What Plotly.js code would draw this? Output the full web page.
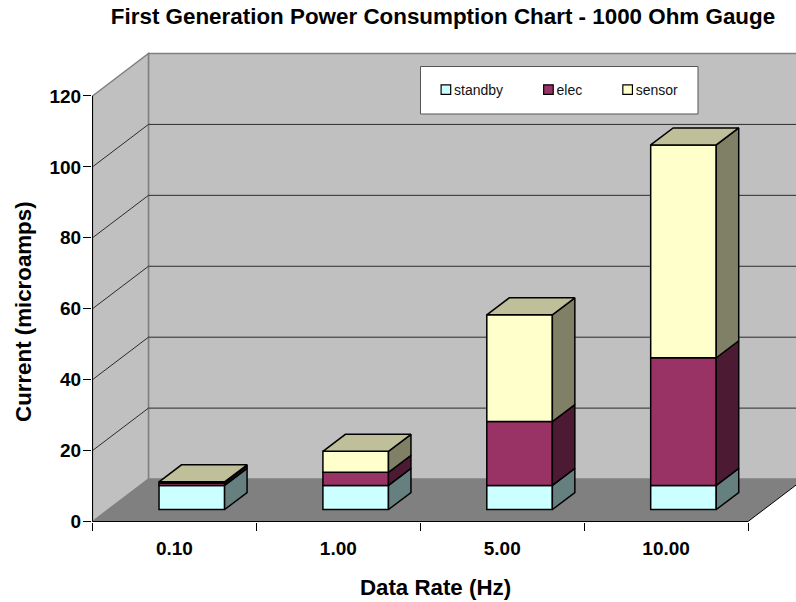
<!DOCTYPE html>
<html><head><meta charset="utf-8">
<script src="https://cdn.plot.ly/plotly-3.0.1.min.js"></script>
<style>html,body{margin:0;padding:0;background:#fff}</style>
</head><body><div id="chart" style="width:796px;height:602px"></div>
<script>
const categories = ['0.10','1.00','5.00','10.00'];
const standby = [6.8,6.8,6.8,6.8];
const elec = [0.7,3.7,18,36];
const sensor = [0.3,5.9,30.1,60];
const seriesNames = ['standby','elec','sensor'];
const yTicks = [0,20,40,60,80,100,120];

const series = [standby,elec,sensor];
const frontColors = ['#CCFFFF','#993366','#FFFFCC'];
const sideColors = ['#668080','#4D1A33','#808066'];
const topColor = '#BFBF99';

// scale: pixels per axis unit; used only to express the 3D depth offsets in axis units
const PXX=164, PXY=3.55;
const wallDX=56/PXX, wallDY=42.5/PXY;
const barDX=22.5/PXX, barDY=17/PXY, lift=12/PXY;
const barW=0.4, barOff=0.606;
const xMax=4, xEnd=704/PXX, yEnd=482/PXY;

const cum = categories.map(()=>0);
const traces=[], sideTraces=[];
series.forEach((vals,s)=>{
  const bases=vals.map((v,i)=>lift+cum[i]);
  const sx=[],sy=[];
  vals.forEach((v,i)=>{
    const r=i+barOff+barW/2, b=bases[i], t=b+v;
    sx.push(r,r+barDX,r+barDX,r,r,null);
    sy.push(b,b+barDY,t+barDY,t,b,null);
    cum[i]+=v;
  });
  traces.push({type:'bar',name:seriesNames[s],x:categories.map((c,i)=>i+barOff),y:vals,base:bases,width:barW,
    marker:{color:frontColors[s],line:{color:'#000',width:1.5}},hoverinfo:'skip'});
  sideTraces.push({type:'scatter',mode:'lines',x:sx,y:sy,fill:'toself',fillcolor:sideColors[s],
    line:{color:'#000',width:1.5},showlegend:false,hoverinfo:'skip'});
});
const tx=[],ty=[];
cum.forEach((c,i)=>{
  const l=i+barOff-barW/2,r=i+barOff+barW/2,t=lift+c;
  tx.push(l,r,r+barDX,l+barDX,l,null);
  ty.push(t,t,t+barDY,t+barDY,t,null);
});
sideTraces.push({type:'scatter',mode:'lines',x:tx,y:ty,fill:'toself',fillcolor:topColor,
  line:{color:'#000',width:1.5},showlegend:false,hoverinfo:'skip'});
const axisLines={type:'scatter',mode:'lines',cliponaxis:false,showlegend:false,hoverinfo:'skip',
  x:[0,0,null,0,xMax,xMax+wallDX],y:[120,0,null,0,0,wallDY],line:{color:'#000',width:1}};

const poly=(pts)=>'M'+pts.map(p=>p[0]+','+p[1]).join('L')+'Z';
const shapes=[
 {type:'path',xref:'x',yref:'y',layer:'below',path:poly([[wallDX,wallDY],[xEnd+1,wallDY],[xEnd+1,120+wallDY],[wallDX,120+wallDY]]),fillcolor:'#C0C0C0',line:{color:'#808080',width:1.5}},
 {type:'path',xref:'x',yref:'y',layer:'below',path:poly([[0,0],[wallDX,wallDY],[wallDX,120+wallDY],[0,120]]),fillcolor:'#C0C0C0',line:{color:'#808080',width:1.5}},
 {type:'path',xref:'x',yref:'y',layer:'below',path:poly([[0,0],[wallDX,wallDY],[xMax+wallDX,wallDY],[xMax,0]]),fillcolor:'#808080',line:{width:0}},
];
yTicks.slice(1,-1).forEach(v=>{
  shapes.push({type:'path',xref:'x',yref:'y',layer:'below',path:`M0,${v}L${wallDX},${v+wallDY}L${xEnd+1},${v+wallDY}`,line:{color:'#2b2b2b',width:1}});
});
// legend frame
const W=704,H=482;
shapes.push({type:'rect',xref:'paper',yref:'paper',layer:'above',x0:(420.5-92)/W,x1:(698-92)/W,y0:(522-114)/H,y1:(522-66.5)/H,fillcolor:'#fff',line:{color:'#555',width:1}});

const F='"Liberation Sans",Arial,sans-serif';
const tickFont={family:F,size:19,color:'#000'};
const layout={
 width:796,height:602,paper_bgcolor:'#fff',plot_bgcolor:'#fff',
 margin:{l:92,r:0,t:40,b:80},barmode:'overlay',showlegend:true,
 title:{text:'<b>First Generation Power Consumption Chart - 1000 Ohm Gauge</b>',x:443/796,xanchor:'center',y:1-16/602,yanchor:'middle',font:{family:F,size:22.4,color:'#000'}},
 legend:{orientation:'h',x:(405.5-92)/W,xanchor:'left',y:(522-90)/H,yanchor:'middle',bgcolor:'rgba(0,0,0,0)',borderwidth:0,itemwidth:38.5,
   font:{family:F,size:14,color:'#111'},itemclick:false,itemdoubleclick:false},
 xaxis:{range:[-0.5/PXX,xEnd],tickmode:'array',tickvals:categories.map((c,i)=>i+0.5),ticktext:categories.map(c=>'<b>'+c+'</b>'),ticks:'',ticklabelstandoff:13,
   minor:{tickmode:'array',tickvals:[0,1,2,3,4],ticks:'outside',ticklen:8,tickcolor:'#000',tickwidth:1,showgrid:false},
   tickfont:tickFont,showgrid:false,zeroline:false,showline:false,
   title:{text:'<b>Data Rate (Hz)</b>',font:{family:F,size:22.3,color:'#000'},standoff:22}},
 yaxis:{range:[-0.5/PXY,yEnd],tickmode:'array',tickvals:yTicks,ticktext:yTicks.map(v=>'<b>'+v+'</b>'),ticks:'outside',ticklen:8,tickcolor:'#000',tickwidth:1,ticklabelstandoff:-2,
   tickfont:tickFont,showgrid:false,zeroline:false,showline:false,
   title:{text:'<b>Current (microamps)</b>',font:{family:F,size:22.3,color:'#000'},standoff:20}},
 shapes:shapes,hovermode:false
};
Plotly.newPlot('chart',traces.concat(sideTraces,[axisLines]),layout,{displayModeBar:false,staticPlot:true}).then(()=>{
  document.querySelectorAll('.legend .legendpoints').forEach(g=>{
    g.setAttribute('transform','translate(21,0) scale(0.8)');
  });
  const xt=document.querySelector('.xtitle');
  if(xt){xt.setAttribute('x',435.5);xt.setAttribute('y',595);}
  const yt=document.querySelector('.ytitle');
  if(yt){yt.setAttribute('x',31);yt.setAttribute('y',311.7);yt.setAttribute('transform','rotate(-90,31,311.7)');}
});
</script></body></html>
